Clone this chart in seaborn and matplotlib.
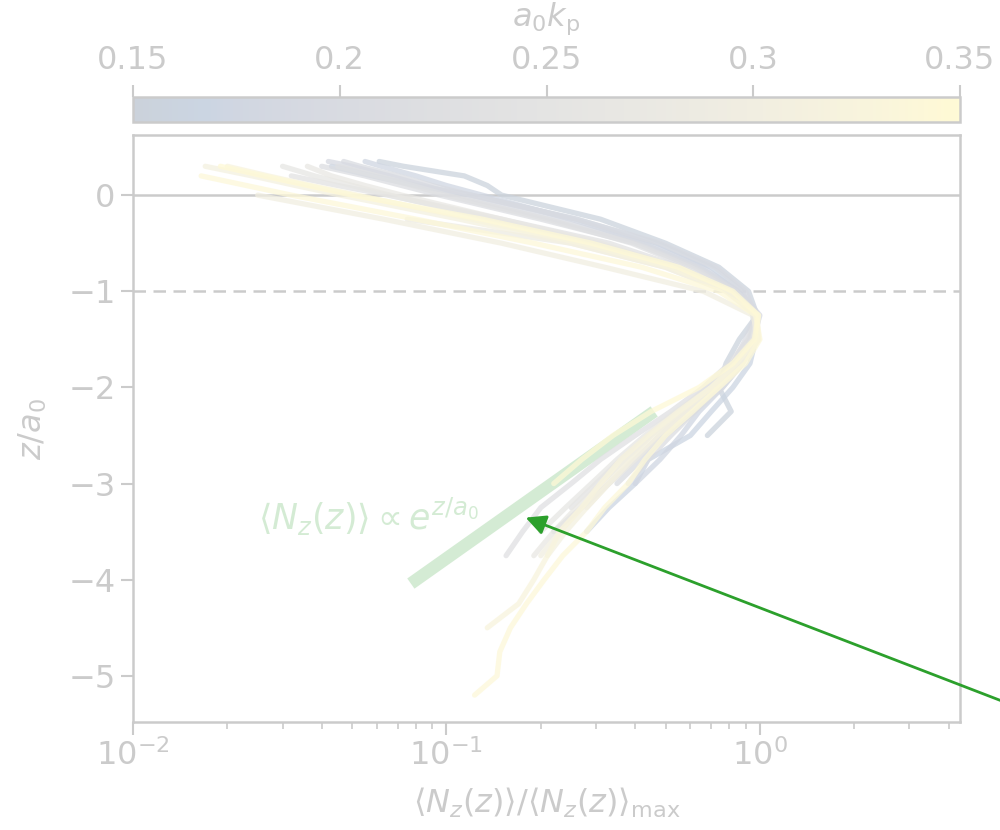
import numpy as np
import pandas as pd
import matplotlib
matplotlib.use("Agg")
import matplotlib.pyplot as plt
import seaborn as sns
from matplotlib.colors import Normalize
from matplotlib.cm import ScalarMappable
from matplotlib.patches import Rectangle
from matplotlib.text import Annotation

N = np.nan

# depth grid (z/a0) shared by all profiles
z_grid = [0.35, 0.3, 0.2, 0.1, 0.0, -0.25, -0.5, -0.75, -1.0, -1.25, -1.5, -1.75, -2.0,
          -2.25, -2.5, -2.75, -3.0, -3.25, -3.5, -3.75, -4.0, -4.25, -4.5, -4.75, -5.0, -5.2]

# normalised <N_z(z)> profiles, one per run
prof_155 = [0.061, 0.073, 0.114, 0.135, 0.15, 0.31, 0.50, 0.74, 0.92, 0.98, 0.86, 0.78, 0.74,
            0.81, 0.68, N, N, N, N, N, N, N, N, N, N, N]
prof_165 = [N, 0.043, 0.058, 0.08, 0.12, 0.26, 0.47, 0.70, 0.88, 0.95, 0.97, 0.93, 0.82,
            0.70, 0.60, 0.44, 0.40, 0.33, 0.28, N, N, N, N, N, N, N]
prof_175 = [0.055, 0.062, 0.08, 0.10, 0.13, 0.25, 0.44, 0.66, 0.85, 0.97, 0.93, 0.88, 0.76,
            0.64, 0.56, 0.48, 0.40, N, N, N, N, N, N, N, N, N]
prof_190 = [0.042, 0.050, 0.066, 0.085, 0.11, 0.22, 0.42, 0.64, 0.86, 1.0, 0.95, 0.84, 0.70,
            0.58, 0.48, 0.40, 0.33, 0.27, 0.22, N, N, N, N, N, N, N]
prof_200 = [0.047, 0.053, 0.07, 0.09, 0.12, 0.26, 0.48, 0.72, 0.90, 0.97, 0.90, 0.82, 0.72,
            0.62, 0.50, 0.42, 0.35, N, N, N, N, N, N, N, N, N]
prof_210 = [N, 0.040, 0.055, 0.072, 0.095, 0.20, 0.40, 0.62, 0.84, 0.99, 0.97, 0.88, 0.76,
            0.62, 0.52, 0.44, 0.38, N, N, N, N, N, N, N, N, N]
prof_225 = [N, 0.045, 0.060, 0.078, 0.10, 0.21, 0.39, 0.60, 0.82, 0.98, 0.92, 0.80, 0.66,
            0.52, 0.40, 0.31, 0.25, 0.20, 0.175, 0.155, N, N, N, N, N, N]
prof_240 = [N, N, 0.032, 0.045, 0.065, 0.15, 0.33, 0.56, 0.80, 0.97, 0.96, 0.84, 0.68,
            0.55, 0.44, 0.36, 0.30, 0.25, N, N, N, N, N, N, N, N]
prof_260 = [N, 0.030, 0.038, 0.050, 0.066, 0.14, 0.30, 0.55, 0.81, 0.98, 0.95, 0.82, 0.70,
            0.54, 0.43, 0.35, 0.29, 0.24, 0.20, N, N, N, N, N, N, N]
prof_270 = [N, 0.036, 0.043, 0.055, 0.072, 0.15, 0.31, 0.54, 0.79, 0.98, 0.98, 0.86, 0.70,
            0.56, 0.45, 0.37, 0.31, 0.26, 0.22, 0.19, N, N, N, N, N, N]
prof_285 = [N, N, N, N, N, 0.075, 0.25, 0.50, 0.78, 0.97, 0.99, 0.88, 0.74,
            0.60, 0.48, 0.40, 0.33, 0.28, N, N, N, N, N, N, N, N]
prof_300 = [N, N, N, N, 0.025, 0.063, 0.15, 0.32, 0.66, 0.95, 0.99, 0.86, 0.70,
            0.56, 0.45, 0.38, 0.32, 0.27, 0.23, 0.20, N, N, N, N, N, N]
prof_310 = [N, 0.017, 0.024, 0.033, 0.046, 0.11, 0.25, 0.50, 0.78, 0.98, 0.99, 0.88, 0.72,
            0.58, 0.47, 0.39, 0.33, 0.28, 0.24, 0.21, N, N, N, N, N, N]
prof_325 = [N, 0.020, 0.027, 0.037, 0.052, 0.12, 0.27, 0.52, 0.80, 0.99, 0.97, 0.84, 0.70,
            0.55, 0.44, 0.36, 0.31, 0.27, 0.23, 0.21, 0.19, 0.17, 0.135, N, N, N]
prof_340 = [N, N, 0.0165, 0.023, 0.032, 0.08, 0.19, 0.42, 0.74, 0.97, 1.0, 0.90, 0.74,
            0.61, 0.50, 0.43, 0.38, 0.32, 0.28, 0.235, 0.205, 0.18, 0.16, 0.148, 0.145, 0.123]
prof_345 = [N, 0.019, 0.026, 0.036, 0.05, 0.13, 0.29, 0.55, 0.82, 0.99, 0.96, 0.82, 0.64,
            0.45, 0.34, 0.27, 0.22, N, N, N, N, N, N, N, N, N]

a0kp = [0.155, 0.165, 0.175, 0.19, 0.20, 0.21, 0.225, 0.24, 0.26, 0.27, 0.285, 0.30,
        0.31, 0.325, 0.34, 0.345]
profiles = [prof_155, prof_165, prof_175, prof_190, prof_200, prof_210, prof_225, prof_240,
            prof_260, prof_270, prof_285, prof_300, prof_310, prof_325, prof_340, prof_345]

# exponential reference line <N_z> ~ exp(z/a0), end points
exp_x = [0.077, 0.46]
exp_z = [-4.04, -2.25]

cbar_ticks = [0.15, 0.2, 0.25, 0.3, 0.35]
cbar_labels = ["0.15", "0.2", "0.25", "0.3", "0.35"]

# long-form table for seaborn
frames = []
for k, xs in zip(a0kp, profiles):
    frames.append(pd.DataFrame({"a0kp": k, "z": z_grid, "N": xs}))
df = pd.concat(frames, ignore_index=True).dropna()

sns.set_style("ticks")
plt.rcParams.update({
    "font.family": ["DejaVu Sans"],
    "font.size": 23,
    "mathtext.fontset": "dejavusans",
    "axes.edgecolor": "k",
    "axes.labelcolor": "k",
    "text.color": "k",
    "xtick.color": "k",
    "ytick.color": "k",
    "axes.linewidth": 1.8,
    "xtick.major.size": 9,
    "ytick.major.size": 9,
    "xtick.minor.size": 5,
    "xtick.major.width": 1.5,
    "ytick.major.width": 1.5,
    "xtick.minor.width": 1.2,
})

fig = plt.figure(figsize=(10, 8.3), dpi=100)
ax = fig.add_axes([0.133, 0.1301, 0.827, 0.7072])
cax = fig.add_axes([0.133, 0.853, 0.827, 0.030])

ax.axhline(0, color="k", lw=1.8, zorder=1)
ax.axhline(-1, color="k", lw=1.8, ls=(0, (5, 3)), zorder=1)

ax.plot(exp_x, exp_z, color="#2ca02c", lw=9, solid_capstyle="butt", zorder=2)

sns.lineplot(data=df, x="N", y="z", hue="a0kp", units="a0kp", estimator=None, sort=False,
             palette="cividis", hue_norm=(0.15, 0.35), lw=3.8, alpha=0.75,
             legend=False, ax=ax, zorder=3)

ax.text(0.025, -3.35, r"$\langle N_z(z)\rangle \propto e^{z/a_0}$", color="#2ca02c",
        fontsize=25, va="center", ha="left")

ax.set_xscale("log")
ax.set_xlim(1e-2, 4.35)
ax.set_ylim(-5.48, 0.625)
ax.set_yticks([0, -1, -2, -3, -4, -5])
ax.set_xlabel(r"$\langle N_z(z)\rangle/\langle N_z(z)\rangle_{\rm max}$", labelpad=10)
ax.set_ylabel(r"$z/a_0$", labelpad=14)

sm = ScalarMappable(norm=Normalize(0.15, 0.35), cmap="cividis")
cb = fig.colorbar(sm, cax=cax, orientation="horizontal", ticks=cbar_ticks)
cb.set_ticklabels(cbar_labels)
cb.outline.set_linewidth(1.8)
cax.xaxis.set_ticks_position("top")
cax.xaxis.set_label_position("top")
cax.tick_params(pad=6)
cb.set_label(r"$a_0k_{\rm p}$", labelpad=14)

# wash the whole figure out, then put the pointer on top
fig.add_artist(Rectangle((0, 0), 1, 1, transform=fig.transFigure, facecolor="white",
                         edgecolor="none", alpha=0.8, zorder=50))
arrow = Annotation("", xy=(0.179, -3.354), xycoords=ax.transData,
                   xytext=(1.02, 0.147), textcoords="figure fraction",
                   arrowprops=dict(arrowstyle="-|>", color="#2ca02c", lw=2,
                                   mutation_scale=30, shrinkA=0, shrinkB=0),
                   annotation_clip=False)
arrow.set_zorder(60)
fig.add_artist(arrow)

fig.savefig("out.png", dpi=100)
